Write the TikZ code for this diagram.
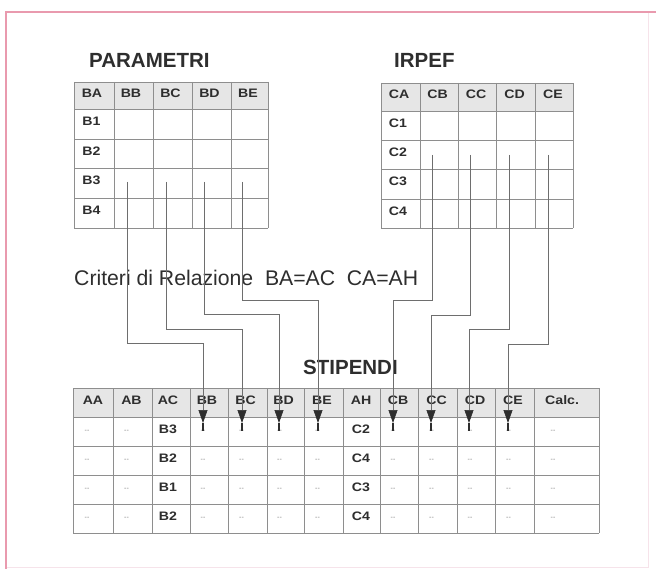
\documentclass[tikz,border=0pt]{standalone}
\usepackage{fontspec}
\setmainfont{Liberation Sans}
\newfontfamily\wideface[FakeStretch=1.15]{Liberation Sans}
\usetikzlibrary{arrows.meta}
\definecolor{framec}{HTML}{E99AAE}
\definecolor{framelight}{HTML}{F6E3EA}
\definecolor{gridc}{HTML}{8E8E8E}
\definecolor{headfill}{HTML}{E6E6E6}
\definecolor{ink}{HTML}{2E2E2E}
\definecolor{wire}{HTML}{6E6E6E}
\tikzset{
  title/.style={font=\fontsize{20.5}{24}\selectfont\bfseries, text=ink, inner sep=0pt, anchor=west},
  head/.style={font=\wideface\fontsize{12.3}{14}\selectfont\bfseries, text=ink, inner sep=0pt},
  dots/.style={font=\fontsize{7}{8}\selectfont, text=gray, inner sep=0pt},
  gridline/.style={draw=gridc, line width=0.8pt},
  wireline/.style={draw=wire, line width=0.7pt},
  tipped/.style={-{Triangle[length=13pt,width=9pt,color=ink]}},
  stub/.style={draw=ink, line width=1.6pt}
}
\begin{document}
\begin{tikzpicture}[x=1pt,y=-1pt]
\useasboundingbox (0,0) rectangle (656,569);
\fill[white] (0,0) rectangle (656,569);
% frame
\draw[framelight, line width=1pt] (6,12) rectangle (648,567);
\draw[framec, line width=1.2pt] (6,569) -- (6,12) -- (656,12);

% header fills
\fill[headfill] (74,82) rectangle (268,109);
\fill[headfill] (381,83) rectangle (573,111);
\fill[headfill] (73,388) rectangle (599,417);

% PARAMETRI grid
\foreach \x in {74,114,153,192,231,268} \draw[gridline] (\x,82) -- (\x,228);
\foreach \y in {82,109,139,168,198,228} \draw[gridline] (74,\y) -- (268,\y);
% IRPEF grid
\foreach \x in {381,420,458,496,535,573} \draw[gridline] (\x,83) -- (\x,228);
\foreach \y in {83,111,140,169,199,228} \draw[gridline] (381,\y) -- (573,\y);
% STIPENDI grid
\foreach \x in {73,113,152,190,228,267,304,343,380,418,457,495,534,599} \draw[gridline] (\x,388) -- (\x,533);
\foreach \y in {388,417,446,475,504,533} \draw[gridline] (73,\y) -- (599,\y);

% titles
\node[title] (tpar) at (89,60) {PARAMETRI};
\node[title] (tirp) at (394,60) {IRPEF};
\node[title] (tsti) at (303,367) {STIPENDI};

% PARAMETRI texts
\foreach \t/\x [count=\i] in {BA/92,BB/131,BC/170.5,BD/209.5,BE/248}
  \node[head] (ph\i) at (\x,93.5) {\t};
\foreach \t/\y [count=\i] in {B1/121.5,B2/151,B3/180.5,B4/210}
  \node[head] (pr\i) at (91.5,\y) {\t};
% IRPEF texts
\foreach \t/\x [count=\i] in {CA/399,CB/437.5,CC/476,CD/514.5,CE/553}
  \node[head] (ih\i) at (\x,94) {\t};
\foreach \t/\y [count=\i] in {C1/123,C2/152.5,C3/181.5,C4/211}
  \node[head] (ir\i) at (398,\y) {\t};
% STIPENDI header
\foreach \t/\x [count=\i] in {AA/93,AB/131.5,AC/168,BB/207,BC/245.5,BD/283.5,BE/322,AH/361,CB/398,CC/436.5,CD/475,CE/513}
  \node[head] (sh\i) at (\x,400) {\t};
\node[head, anchor=west] (sh13) at (545,400) {Calc.};
% STIPENDI data
\foreach \y/\b/\c [count=\r] in {429/B3/C2,458/B2/C4,487/B1/C3,516/B2/C4}{
  \node[head] (sac\r) at (168,\y) {\b};
  \node[head] (sah\r) at (361,\y) {\c};
  \foreach \x [count=\k] in {87,126.5,203,241.5,279.5,317.5,393,431.5,470,508.5,553}
    \node[dots] (sd\r-\k) at (\x,\y+2) {-{}-};
}

% relation criteria
\node[anchor=west, inner sep=0pt, text=ink, font=\fontsize{21.2}{25}\selectfont] (crit) at (74,278) {Criteri di Relazione\ \ BA=AC\ \ CA=AH};

% connector coordinates
\foreach \n/\x in {1/127,2/166,3/204,4/242} \coordinate (ps\n) at (\x,182);
\foreach \n/\x in {1/432,2/470,3/509,4/548} \coordinate (is\n) at (\x,155);
\foreach \n/\x in {1/203,2/242,3/279,4/318,5/393,6/431,7/469,8/508} \coordinate (se\n) at (\x,423);
\foreach \n/\x/\y in {1/203/343,2/242/329,3/279/314,4/318/300,5/393/300,6/431/315,7/469/329,8/508/344}
  \coordinate (bd\n) at (\x,\y);

% connectors PARAMETRI -> STIPENDI
\foreach \n in {1,2,3,4}
  \draw[wireline,tipped] (ps\n) |- (bd\n) -- (se\n);
% connectors IRPEF -> STIPENDI
\foreach \n/\m in {1/5,2/6,3/7,4/8}
  \draw[wireline,tipped] (is\n) |- (bd\m) -- (se\m);
% arrow stubs
\foreach \n in {1,...,8}
  \draw[stub] (se\n) -- ++(0,8);
\end{tikzpicture}
\end{document}
